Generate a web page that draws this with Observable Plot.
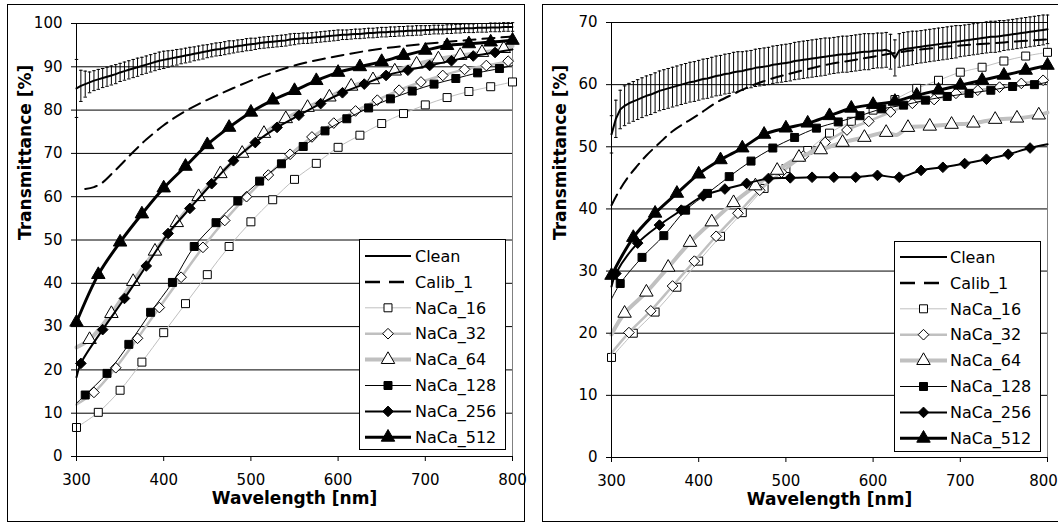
<!DOCTYPE html>
<html><head><meta charset="utf-8">
<script src="https://cdn.jsdelivr.net/npm/d3@7"></script>
<script src="https://cdn.jsdelivr.net/npm/@observablehq/plot@0.6"></script>
<style>
html,body{margin:0;padding:0;background:#fff;}
body{width:1058px;height:522px;position:relative;overflow:hidden;font-family:"DejaVu Sans",sans-serif;}
.border{position:absolute;box-sizing:border-box;border:1px solid #000;}
.holder{position:absolute;top:0;}
.holder svg{display:block;overflow:visible;}
#legend{position:absolute;left:0;top:0;}
</style></head><body>
<div class="border" style="left:7px;top:4px;width:518px;height:518px"></div>
<div class="border" style="left:542px;top:4px;width:530px;height:518px"></div>
<div id="pl" class="holder" style="left:0px"></div>
<div id="pr" class="holder" style="left:530px"></div>
<div id="legend"></div>
<script>
// ---------------- data ----------------
const legendNames = ["Clean","Calib_1","NaCa_16","NaCa_32","NaCa_64","NaCa_128","NaCa_256","NaCa_512"];
const xTicks = [300,400,500,600,700,800];
const yTicksLeft = [0,10,20,30,40,50,60,70,80,90,100];
const yTicksRight = [0,10,20,30,40,50,60,70];
const cleanStartWl = 300, cleanStepWl = 5;
const markerStartWl = [300,320,315,310,305,300]; // NaCa_16 .. NaCa_512
const markerStepWl = 25;

// Left panel: Clean (every 5 nm) and its error half-widths
const cleanLeft = [
 85.0,85.6,86.0,86.4,86.8,87.1,87.4,87.7,88.0,88.3,
 88.7,89.0,89.3,89.6,89.9,90.2,90.5,90.8,91.1,91.4,
 91.6,91.8,92.0,92.2,92.4,92.6,92.8,93.0,93.2,93.4,
 93.6,93.8,94.0,94.1,94.3,94.5,94.6,94.8,94.9,95.1,
 95.2,95.3,95.5,95.6,95.7,95.8,95.9,96.0,96.1,96.3,
 96.4,96.5,96.6,96.6,96.7,96.8,96.9,97.0,97.1,97.2,
 97.3,97.4,97.4,97.5,97.6,97.6,97.7,97.8,97.8,97.9,
 98.0,98.0,98.1,98.1,98.2,98.2,98.3,98.3,98.4,98.4,
 98.5,98.5,98.6,98.6,98.6,98.7,98.7,98.8,98.8,98.9,
 98.9,98.9,99.0,99.0,99.0,99.1,99.1,99.1,99.2,99.2,
 99.2];
const errLeft = [
 6.7,3.6,3.0,2.4,2.3,2.3,2.2,2.2,2.2,2.2,
 2.1,2.1,2.1,2.1,2.1,2.0,2.0,2.0,2.0,2.0,
 2.0,1.9,1.8,1.8,1.7,1.7,1.7,1.6,1.6,1.6,
 1.5,1.5,1.5,1.5,1.5,1.5,1.4,1.4,1.4,1.4,
 1.4,1.3,1.3,1.3,1.3,1.3,1.3,1.3,1.3,1.3,
 1.3,1.2,1.2,1.2,1.2,1.2,1.2,1.2,1.2,1.2,
 1.2,1.1,1.1,1.1,1.1,1.1,1.1,1.1,1.1,1.1,
 1.1,1.1,1.1,1.1,1.1,1.1,1.1,1.1,1.1,1.1,
 1.0,1.0,1.0,1.0,1.0,1.0,1.0,1.0,1.0,1.0,
 1.0,1.0,1.0,1.0,1.0,1.0,1.0,1.0,1.0,1.0,
 1.0];
const calibWlLeft = [310,320,330,340,350,360,370,380,400,420,440,460,480,500,520,550,600,650,700,750,800];
const calibLeft   = [61.8,62.2,63.3,65.2,67.2,69.3,71.3,73.2,76.5,79.2,81.4,83.3,85.1,86.8,88.3,90.3,92.5,94.2,95.3,96.2,97.0];
const naca16Left  = [6.7,10.2,15.3,21.8,28.6,35.3,42,48.5,54.2,59.3,64,67.7,71.4,74.2,76.9,79.2,81.2,82.9,84.3,85.4,86.5];
const naca32Left  = [14.8,20.5,27.3,34.4,41.4,48.3,54.5,60,65,69.8,73.8,77,79.8,82.3,84.6,86.5,88,89.4,90.3,91.3];
const naca64Left  = [27,33,40.4,47.4,54,60,65.3,70,74.6,78,80.6,83,85.5,87,89,90.6,91.8,92.6,93.3,94.2];
const naca128Left = [14.2,19.2,25.9,33.3,40.2,48.5,54,59,63.6,67.6,71.6,75.2,78,80.5,82.6,84.4,86,87.3,88.6,89.6];
const naca256Left = [21.5,29.3,36.5,44,51.5,57.3,63,68.3,72.5,76,78.8,81.5,84,86,88,89.2,90.3,91.4,92.5,93.3];
const naca512Left = [31,42,49.5,56,62,67,72,76,79.5,82.3,84.5,86.8,88.7,90,91.2,92.6,93.8,94.9,95.3,95.7,96.1];
const lineAt300Left = [null,12.0,25.2,12.3,18.3,null];
const lineAt800Left = [null,91.6,94.8,90.3,94.0,null];

// Right panel
const cleanRight = [
 52.0,54.5,56.0,56.6,57.0,57.3,57.6,57.9,58.2,58.4,
 58.7,59.0,59.2,59.4,59.6,59.8,60.0,60.2,60.4,60.5,
 60.7,60.9,61.0,61.2,61.4,61.5,61.7,61.8,62.0,62.1,
 62.2,62.4,62.5,62.7,62.8,62.9,63.0,63.2,63.3,63.4,
 63.5,63.6,63.8,63.9,64.0,64.1,64.2,64.3,64.4,64.5,
 64.6,64.7,64.8,64.9,64.9,65.0,65.1,65.2,65.3,65.3,
 65.4,65.5,65.5,65.6,65.3,64.3,65.5,65.7,65.8,65.9,
 66.0,66.1,66.2,66.3,66.4,66.5,66.6,66.7,66.8,66.9,
 67.0,67.1,67.2,67.3,67.4,67.5,67.6,67.7,67.7,67.8,
 67.9,68.0,68.1,68.2,68.3,68.4,68.5,68.6,68.7,68.8,
 68.9];
const errRight = [
 3.0,3.0,3.1,3.2,3.2,3.2,3.2,3.2,3.2,3.2,
 3.2,3.2,3.2,3.2,3.2,3.2,3.2,3.2,3.2,3.2,
 3.2,3.2,3.2,3.2,3.2,3.2,3.2,3.2,3.2,3.2,
 3.1,3.0,3.0,3.0,3.0,3.0,3.0,3.0,3.0,3.0,
 3.0,3.0,3.0,3.0,3.0,3.0,3.0,3.0,3.0,3.0,
 2.9,2.9,2.9,2.9,2.9,2.9,2.9,2.9,2.9,2.9,
 2.8,2.8,2.8,2.8,2.8,2.9,2.7,2.7,2.7,2.7,
 2.6,2.6,2.6,2.6,2.6,2.6,2.6,2.6,2.6,2.6,
 2.5,2.5,2.5,2.5,2.5,2.5,2.5,2.5,2.5,2.5,
 2.4,2.4,2.4,2.4,2.4,2.4,2.4,2.4,2.4,2.4,
 2.3];
const calibWlRight = [300,310,320,330,340,355,370,385,400,420,440,460,480,500,525,550,575,600,625,650,700,750,800];
const calibRight   = [40.6,43.2,45.3,47,48.6,50.6,52.5,53.9,55.2,57.1,58.5,59.8,60.8,61.6,62.5,63.3,63.9,64.5,65.1,65.6,66.3,66.8,67.3];
const naca16Right  = [16.1,20,23.4,27.4,31.6,35.6,39.4,43.3,46.5,49.4,52.2,54.1,55.9,57.6,59.4,60.7,62,62.8,63.8,64.6,65.2];
const naca32Right  = [20.1,23.6,27.6,31.6,35.6,39.3,43,45.9,48.5,50.7,52.7,54.1,55.6,57,57.6,58.6,59.1,59.6,60.2,60.7];
const naca64Right  = [23.2,26.6,30.6,34.6,37.9,41,43.7,46.2,48.3,49.5,50.7,51.5,52.3,53.1,53.3,53.6,53.8,54.4,54.6,55.1];
const naca128Right = [28,32.2,35.7,39.8,42.5,45.2,47.7,49.8,51.5,53,54,55,56.1,56.7,57.5,58.1,58.6,59.1,59.7,60];
const naca256Right = [29.6,34.5,37.4,39.8,42.1,43.2,44.1,44.9,45,45.1,45.1,45.1,45.4,45.1,46.2,46.7,47.3,48,48.8,49.8];
const naca512Right = [29.3,35.4,39.3,42.5,45.6,47.9,49.8,52,53,53.8,55,56.2,56.8,57.3,58.3,59.1,59.9,60.7,61.5,62.3,63.1];
const lineAt300Right = [null,16.8,19.8,25.5,27.5,null];
const lineAt800Right = [null,60.9,55.5,60.4,50.4,null];
const dipWlRight = [null,null,627,null,null,null];
const dipRight   = [null,null,51.9,null,null,null];

// ---------------- styles ----------------
const FONT = "DejaVu Sans";
const seriesStyle = [
  {stroke:"#c0c0c0", sw:1,   symbol:"square",   fill:"#fff", r:4.5},
  {stroke:"#c0c0c0", sw:2.5, symbol:"diamond2", fill:"#fff", r:4.8},
  {stroke:"#c0c0c0", sw:4,   symbol:"triangle", fill:"#fff", r:5.0},
  {stroke:"#000",    sw:1,   symbol:"square",   fill:"#000", r:4.5},
  {stroke:"#000",    sw:2,   symbol:"diamond2", fill:"#000", r:4.8},
  {stroke:"#000",    sw:3,   symbol:"triangle", fill:"#000", r:5.0}
];
const DASH = "12,7";
const TICK = 5, XPAD = 13, YPAD = 9;

function buildSeries(vals, i, at300, at800, dipWl, dipT) {
  const markers = vals.map((t, k) => ({wl: markerStartWl[i] + k * markerStepWl, t}));
  const line = markers.slice();
  if (at300[i] != null && markers[0].wl > 300) line.unshift({wl: 300, t: at300[i]});
  if (at800[i] != null && markers[markers.length - 1].wl < 800) line.push({wl: 800, t: at800[i]});
  if (dipWl && dipWl[i] != null) line.push({wl: dipWl[i], t: dipT[i]});
  line.sort((a, b) => a.wl - b.wl);
  return {markers, line};
}

function makePanel(o) {
  const clean = o.clean.map((t, k) => ({wl: cleanStartWl + k * cleanStepWl, t, e: o.err[k]}));
  const calib = o.calibWl.map((wl, k) => ({wl, t: o.calib[k]}));
  const lastTick = xTicks[xTicks.length - 1];
  const marks = [
    Plot.gridY(o.yTicks.filter(v => v > 0), {stroke: "#000", strokeOpacity: 1, strokeWidth: 1}),
    Plot.ruleX([800], {stroke: "#808080", strokeWidth: 1}),
    // error bars of Clean
    Plot.ruleX(clean, {x: "wl", y1: d => d.t - d.e, y2: d => d.t + d.e, stroke: "#000", strokeWidth: 1}),
    Plot.link(clean, {x1: d => d.wl - 2, x2: d => d.wl + 2, y1: d => d.t + d.e, y2: d => d.t + d.e, stroke: "#000", strokeWidth: 1}),
    Plot.link(clean, {x1: d => d.wl - 2, x2: d => d.wl + 2, y1: d => d.t - d.e, y2: d => d.t - d.e, stroke: "#000", strokeWidth: 1}),
    Plot.line(clean, {x: "wl", y: "t", stroke: "#000", strokeWidth: 2}),
    Plot.line(calib, {x: "wl", y: "t", stroke: "#000", strokeWidth: 2, strokeDasharray: DASH, curve: "catmull-rom"})
  ];
  o.series.forEach((vals, i) => {
    const s = buildSeries(vals, i, o.at300, o.at800, o.dipWl, o.dipT);
    const st = seriesStyle[i];
    marks.push(Plot.line(s.line, {x: "wl", y: "t", stroke: st.stroke, strokeWidth: st.sw, curve: "catmull-rom"}));
    marks.push(Plot.dot(s.markers, {x: "wl", y: "t", symbol: () => st.symbol, r: st.r, fill: st.fill, stroke: "#000", strokeWidth: 1}));
  });
  marks.push(
    Plot.ruleX([300], {stroke: "#000", strokeWidth: 1}),
    Plot.ruleY([0], {stroke: "#000", strokeWidth: 1}),
    Plot.axisX({ticks: xTicks, tickSize: TICK, tickPadding: XPAD, label: null, fontSize: 15,
      tickFormat: d => (o.lastDx && d === lastTick) ? "" : String(d)}),
    Plot.axisY({ticks: o.yTicks, tickSize: TICK, tickPadding: YPAD, tickFormat: d => String(d), label: null, fontSize: 15}),
    Plot.text(["Wavelength [nm]"], {frameAnchor: "bottom", dy: 47, fontWeight: "bold", fontSize: 17, fill: "#000"}),
    Plot.text(["Transmittance [%]"], {frameAnchor: "left", dx: -51, rotate: -90, fontWeight: "bold", fontSize: 17, fill: "#000"})
  );
  if (o.lastDx) {
    marks.push(Plot.text([lastTick], {x: d => d, frameAnchor: "bottom", lineAnchor: "top", dy: TICK + XPAD, dx: o.lastDx,
      text: d => String(d), fontSize: 15, fill: "#000"}));
  }
  return Plot.plot({
    width: o.width, height: 522,
    marginLeft: o.ml, marginRight: o.mr, marginTop: o.mt, marginBottom: o.mb,
    x: {type: "linear", domain: [300, 800]},
    y: {type: "linear", domain: [0, o.yMax]},
    style: {fontFamily: FONT, fontSize: "15px", color: "#000", background: "transparent"},
    marks
  });
}

document.getElementById("pl").appendChild(makePanel({
  width: 530, ml: 76, mr: 18, mt: 23, mb: 66, yMax: 100, yTicks: yTicksLeft,
  clean: cleanLeft, err: errLeft, calibWl: calibWlLeft, calib: calibLeft,
  series: [naca16Left, naca32Left, naca64Left, naca128Left, naca256Left, naca512Left],
  at300: lineAt300Left, at800: lineAt800Left
}));
document.getElementById("pr").appendChild(makePanel({
  width: 528, ml: 81, mr: 11, mt: 22, mb: 65, yMax: 70, yTicks: yTicksRight, lastDx: -4,
  clean: cleanRight, err: errRight, calibWl: calibWlRight, calib: calibRight,
  series: [naca16Right, naca32Right, naca64Right, naca128Right, naca256Right, naca512Right],
  at300: lineAt300Right, at800: lineAt800Right, dipWl: dipWlRight, dipT: dipRight
}));

// ---------------- legends ----------------
const symbolType = {square: d3.symbolSquare, diamond2: d3.symbolDiamond2, triangle: d3.symbolTriangle};
const lsvg = d3.create("svg").attr("width", 1058).attr("height", 522)
  .style("font-family", FONT).style("font-size", "16px");
function drawLegend(x0, y0, w, h, lineX0, lineX1, textX, rowY0, rowStep) {
  const g = lsvg.append("g");
  g.append("rect").attr("x", x0 + 0.5).attr("y", y0 + 0.5).attr("width", w).attr("height", h)
    .attr("fill", "#fff").attr("stroke", "#000").attr("stroke-width", 1);
  legendNames.forEach((name, j) => {
    const y = rowY0 + j * rowStep;
    const ln = g.append("line").attr("x1", lineX0).attr("x2", lineX1).attr("y1", y).attr("y2", y);
    if (j === 0) ln.attr("stroke", "#000").attr("stroke-width", 2);
    else if (j === 1) ln.attr("stroke", "#000").attr("stroke-width", 2.5).attr("stroke-dasharray", "15,9");
    else {
      const st = seriesStyle[j - 2];
      ln.attr("stroke", st.stroke).attr("stroke-width", st.sw);
      g.append("path").attr("d", d3.symbol(symbolType[st.symbol], Math.PI * st.r * st.r)())
        .attr("transform", `translate(${(lineX0 + lineX1) / 2},${y})`)
        .attr("fill", st.fill).attr("stroke", "#000").attr("stroke-width", 1);
    }
    g.append("text").attr("x", textX).attr("y", y).attr("dy", "0.36em").attr("fill", "#000").text(name);
  });
}
drawLegend(359, 239, 146, 210, 365, 411, 415, 256, 25.9);
drawLegend(894, 241, 146, 210, 900, 947, 950, 257, 25.9);
document.getElementById("legend").appendChild(lsvg.node());
</script>
</body></html>
